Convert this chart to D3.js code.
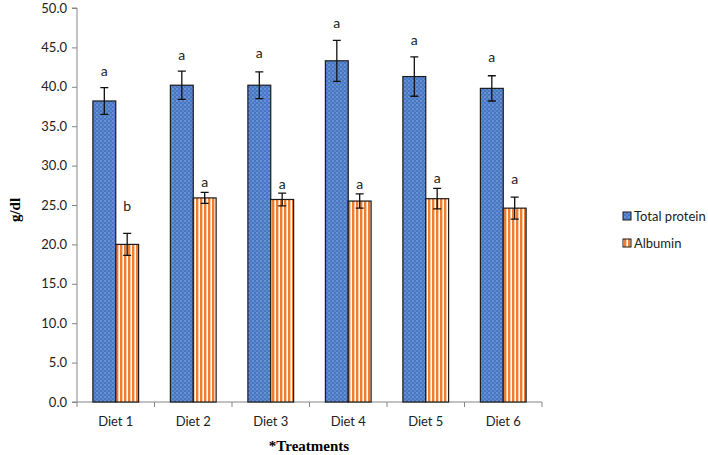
<!DOCTYPE html>
<html><head><meta charset="utf-8">
<script src="https://cdn.jsdelivr.net/npm/d3@7"></script>
<style>body{margin:0;background:#fff}svg{display:block}</style>
</head><body>
<script>
const categories = ["Diet 1","Diet 2","Diet 3","Diet 4","Diet 5","Diet 6"];
const seriesNames = ["Total protein","Albumin"];
const totalProtein = [38.2,40.2,40.2,43.3,41.3,39.8];
const totalProteinErr = [1.7,1.8,1.7,2.6,2.5,1.6];
const albumin = [20.0,25.9,25.7,25.5,25.8,24.6];
const albuminErr = [1.4,0.7,0.8,0.9,1.3,1.4];
const totalProteinLetters = ["a","a","a","a","a","a"];
const albuminLetters = ["b","a","a","a","a","a"];
const totalProteinLetterLevel = [42.0,44.0,44.3,48.1,45.9,43.8];
const albuminLetterLevel = [24.9,27.9,27.7,27.6,28.4,28.3];
const yTicks = [0,5,10,15,20,25,30,35,40,45,50];

const W=708,H=455;
const svg=d3.select("body").append("svg").attr("width",W).attr("height",H);
const defs=svg.append("defs");
const pb=defs.append("pattern").attr("id","dots").attr("patternUnits","userSpaceOnUse").attr("width",4).attr("height",4);
pb.append("rect").attr("width",4).attr("height",4).attr("fill","#4676c4");
pb.append("rect").attr("x",0.5).attr("y",0.5).attr("width",1).attr("height",1).attr("fill","#d4e0f4");
pb.append("rect").attr("x",2.5).attr("y",2.5).attr("width",1).attr("height",1).attr("fill","#9fb9e2");
const po=defs.append("pattern").attr("id","stripes").attr("patternUnits","userSpaceOnUse").attr("width",4).attr("height",4);
po.append("rect").attr("width",4).attr("height",4).attr("fill","#ffffff");
po.append("rect").attr("x",0).attr("width",2.4).attr("height",4).attr("fill","#ed7d31");

const x0=77,x1=542,yTop=8,yBot=402;
const x=d3.scaleBand().domain(categories).range([x0,x1]).paddingInner(0.41).paddingOuter(0.205);
const xs=d3.scaleBand().domain(seriesNames).range([0,x.bandwidth()]);
const y=d3.scaleLinear().domain([0,50]).range([yBot,yTop]);

// axes
const ya=svg.append("g").attr("transform",`translate(${x0},0)`)
  .call(d3.axisLeft(y).tickValues(yTicks).tickFormat(d3.format(".1f")).tickSize(5).tickPadding(5));
ya.select(".domain").attr("stroke","#868686").attr("d",`M-5,${yTop}H0V${yBot}H-5`);
ya.selectAll(".tick line").attr("stroke","#868686");
ya.selectAll("text").attr("font-family","Lato, 'Open Sans', sans-serif").attr("font-size",13).attr("fill","#222");

const xa=svg.append("g").attr("transform",`translate(0,${yBot})`)
  .call(d3.axisBottom(x).tickSize(0).tickPadding(15));
xa.select(".domain").attr("stroke","#868686").attr("d",`M${x0},0H${x1}`);
xa.selectAll("text").attr("font-family","Lato, 'Open Sans', sans-serif").attr("font-size",13).attr("fill","#222");
const bounds=d3.range(categories.length+1).map(i=>x0+i*(x1-x0)/categories.length);
svg.append("g").selectAll("line").data(bounds).join("line")
  .attr("x1",d=>d).attr("x2",d=>d).attr("y1",yBot).attr("y2",yBot+5).attr("stroke","#868686");

const series=[
 {name:seriesNames[0],vals:totalProtein,err:totalProteinErr,letters:totalProteinLetters,lv:totalProteinLetterLevel,fill:"url(#dots)"},
 {name:seriesNames[1],vals:albumin,err:albuminErr,letters:albuminLetters,lv:albuminLetterLevel,fill:"url(#stripes)"}
];
series.forEach(s=>{
  const g=svg.append("g");
  const data=categories.map((c,i)=>({c,v:s.vals[i],e:s.err[i],l:s.letters[i],lv:s.lv[i]}));
  g.selectAll("rect").data(data).join("rect")
    .attr("x",d=>x(d.c)+xs(s.name)).attr("width",xs.bandwidth())
    .attr("y",d=>y(d.v)).attr("height",d=>y(0)-y(d.v))
    .attr("fill",s.fill).attr("stroke","#1a1a1a").attr("stroke-width",1.2);
  const cx=d=>x(d.c)+xs(s.name)+xs.bandwidth()/2;
  g.selectAll("path.err").data(data).join("path").attr("class","err")
    .attr("d",d=>`M${cx(d)-4},${y(d.v+d.e)}H${cx(d)+4}M${cx(d)},${y(d.v+d.e)}V${y(d.v-d.e)}M${cx(d)-4},${y(d.v-d.e)}H${cx(d)+4}`)
    .attr("stroke","#111").attr("stroke-width",1.3).attr("fill","none");
  g.selectAll("text").data(data).join("text")
    .attr("x",cx).attr("y",d=>y(d.lv)).attr("dy","0.35em").attr("text-anchor","middle")
    .attr("font-family","Lato, 'Open Sans', sans-serif").attr("font-size",14).attr("fill","#222").text(d=>d.l);
});

// legend
const lg=svg.append("g");
series.forEach((s,i)=>{
  const yy=216+i*27;
  lg.append("rect").attr("x",623).attr("y",yy-4).attr("width",8).attr("height",8).attr("fill",s.fill).attr("stroke","#1a1a1a").attr("stroke-width",1);
  lg.append("text").attr("x",634).attr("y",yy).attr("dy","0.35em").attr("font-family","Lato, 'Open Sans', sans-serif").attr("font-size",13).attr("fill","#222").text(s.name);
});

svg.append("text").attr("transform",`translate(15,210) rotate(-90)`).attr("text-anchor","middle").attr("dy","0.35em")
  .attr("font-family","'Liberation Serif', 'Times New Roman', serif").attr("font-weight","bold").attr("font-size",15).text("g/dl");
svg.append("text").attr("x",309).attr("y",446).attr("text-anchor","middle").attr("dy","0.35em")
  .attr("font-family","'Liberation Serif', 'Times New Roman', serif").attr("font-weight","bold").attr("font-size",15).text("*Treatments");
</script>
</body></html>
